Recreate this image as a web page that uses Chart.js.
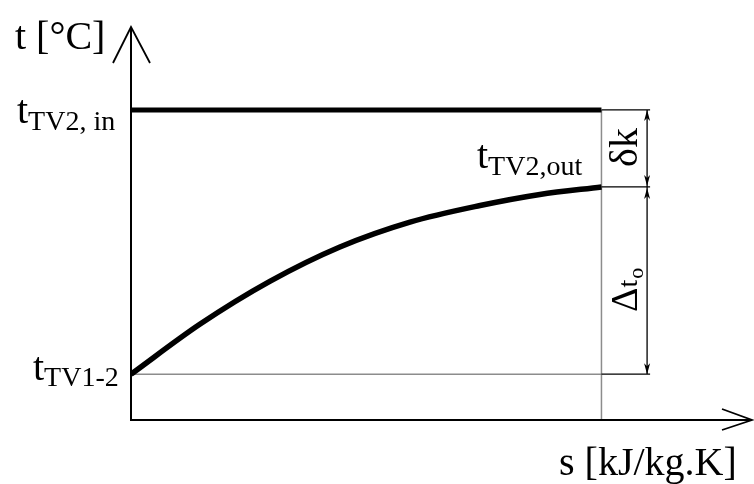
<!DOCTYPE html>
<html>
<head>
<meta charset="utf-8">
<script src="https://cdn.jsdelivr.net/npm/chart.js@4.4.1/dist/chart.umd.min.js"></script>
<style>
  html, body { margin: 0; padding: 0; background: #fff; }
  canvas { display: block; }
</style>
</head>
<body>
<canvas id="chart" width="754" height="484"></canvas>
<script>
// s-t diagram values (arbitrary units)
const sPoints = [0, 1.47, 2.95, 4.44, 5.93, 7.42, 8.69, 10];
const tOutCurve = [11.6, 24.3, 35.1, 43.8, 50.1, 54.3, 57.1, 59.0];
const sEnds = [0, 10];
const tIn = 78.5;
const sDim = 10.97;

const yTitle = "t [°C]";
const xTitle = "s [kJ/kg.K]";
const lblIn = ["t", "TV2, in"];
const lblOut = ["t", "TV2,out"];
const lblStart = ["t", "TV1-2"];
const lblDk = "δk";
const lblDt = ["Δ", "t", "o"];

const FONT = '"Liberation Serif", "Times New Roman", serif';

function font(px) {
  return px + "px " + FONT;
}

function arrow(ctx, x, y, dir) {
  // narrow filled arrow head, tip at (x, y), dir = -1 up, 1 down
  ctx.beginPath();
  ctx.moveTo(x, y);
  ctx.lineTo(x - 3, y - dir * 11);
  ctx.lineTo(x, y - dir * 8);
  ctx.lineTo(x + 3, y - dir * 11);
  ctx.closePath();
  ctx.fill();
}

function subLabel(ctx, x, y, parts, big, small, drop) {
  ctx.font = font(big);
  ctx.fillText(parts[0], x, y);
  const w = ctx.measureText(parts[0]).width;
  ctx.font = font(small);
  ctx.fillText(parts[1], x + w, y + drop);
}

const diagram = {
  id: "diagram",
  beforeDatasetsDraw(chart) {
    const ctx = chart.ctx;
    const xs = chart.scales.x, ys = chart.scales.y;
    const x0 = xs.getPixelForValue(sEnds[0]);
    const x1 = xs.getPixelForValue(sEnds[1]);
    const xd = xs.getPixelForValue(sDim);
    const yIn = ys.getPixelForValue(tIn);
    const yOut = ys.getPixelForValue(tOutCurve[tOutCurve.length - 1]);
    const yStart = ys.getPixelForValue(tOutCurve[0]);
    const yBase = ys.getPixelForValue(0);
    ctx.save();
    // grey guides
    ctx.strokeStyle = "#8c8c8c";
    ctx.lineWidth = 1.5;
    ctx.beginPath();
    ctx.moveTo(x1, yIn);
    ctx.lineTo(x1, yBase);
    ctx.moveTo(x0, yStart);
    ctx.lineTo(x1, yStart);
    ctx.stroke();
    // extension lines to the dimension line
    ctx.strokeStyle = "#000";
    ctx.lineWidth = 1.3;
    ctx.beginPath();
    [yIn, yOut, yStart].forEach(function (y) {
      ctx.moveTo(x1, y);
      ctx.lineTo(xd + 3, y);
    });
    ctx.moveTo(xd, yIn);
    ctx.lineTo(xd, yStart);
    ctx.stroke();
    ctx.fillStyle = "#000";
    arrow(ctx, xd, yIn, -1);
    arrow(ctx, xd, yOut - 1, 1);
    arrow(ctx, xd, yOut + 1, -1);
    arrow(ctx, xd, yStart, 1);
    ctx.restore();
  },
  afterDatasetsDraw(chart) {
    const ctx = chart.ctx;
    const a = chart.chartArea;
    const xs = chart.scales.x, ys = chart.scales.y;
    const xd = xs.getPixelForValue(sDim);
    const yIn = ys.getPixelForValue(tIn);
    const yOut = ys.getPixelForValue(tOutCurve[tOutCurve.length - 1]);
    const yStart = ys.getPixelForValue(tOutCurve[0]);
    ctx.save();
    // axes with open arrow heads
    ctx.strokeStyle = "#000";
    ctx.lineWidth = 2;
    ctx.beginPath();
    ctx.moveTo(a.left, a.top + 2);
    ctx.lineTo(a.left, a.bottom);
    ctx.lineTo(a.right, a.bottom);
    ctx.stroke();
    ctx.lineWidth = 1.8;
    ctx.beginPath();
    ctx.moveTo(a.left - 18, a.top + 38);
    ctx.lineTo(a.left, a.top + 2);
    ctx.lineTo(a.left + 19, a.top + 38);
    ctx.moveTo(a.right - 30, a.bottom - 11);
    ctx.lineTo(a.right, a.bottom);
    ctx.lineTo(a.right - 30, a.bottom + 10);
    ctx.stroke();

    // texts
    ctx.fillStyle = "#000";
    ctx.textAlign = "left";
    ctx.textBaseline = "alphabetic";
    ctx.font = font(40);
    ctx.fillText(yTitle, 15, 49);
    ctx.fillText(xTitle, 559, 475);
    subLabel(ctx, 17, yIn + 13, lblIn, 40, 28, 7);
    subLabel(ctx, 477, yOut - 19, lblOut, 40, 28, 7);
    subLabel(ctx, 33, yStart + 6, lblStart, 40, 28, 6);

    // rotated dimension labels
    ctx.save();
    ctx.translate(xd - 10, yIn + 57);
    ctx.rotate(-Math.PI / 2);
    ctx.font = font(40);
    ctx.fillText(lblDk, 0, 0);
    ctx.restore();

    ctx.save();
    ctx.translate(xd - 10, yOut + 125);
    ctx.rotate(-Math.PI / 2);
    ctx.font = font(38);
    ctx.fillText(lblDt[0], 0, 0);
    let w = ctx.measureText(lblDt[0]).width;
    ctx.font = font(28);
    ctx.fillText(lblDt[1], w, 0);
    w += ctx.measureText(lblDt[1]).width + 1;
    ctx.font = font(22);
    ctx.fillText(lblDt[2], w, 6);
    ctx.restore();
    ctx.restore();
  }
};

new Chart(document.getElementById("chart"), {
  type: "scatter",
  data: {
    datasets: [
      {
        data: sEnds.map(function (s) { return { x: s, y: tIn }; }),
        showLine: true,
        borderColor: "#000",
        borderWidth: 5,
        pointRadius: 0,
      },
      {
        data: sPoints.map(function (s, i) { return { x: s, y: tOutCurve[i] }; }),
        showLine: true,
        borderColor: "#000",
        borderWidth: 5.5,
        pointRadius: 0,
        cubicInterpolationMode: "monotone",
      },
    ],
  },
  options: {
    responsive: false,
    animation: false,
    layout: { padding: { left: 131, right: 2, top: 25, bottom: 64 } },
    scales: {
      x: { type: "linear", min: 0, max: 13.2, display: false },
      y: { type: "linear", min: 0, max: 100, display: false },
    },
    plugins: {
      legend: { display: false },
      tooltip: { enabled: false },
    },
  },
  plugins: [diagram],
});
</script>
</body>
</html>
